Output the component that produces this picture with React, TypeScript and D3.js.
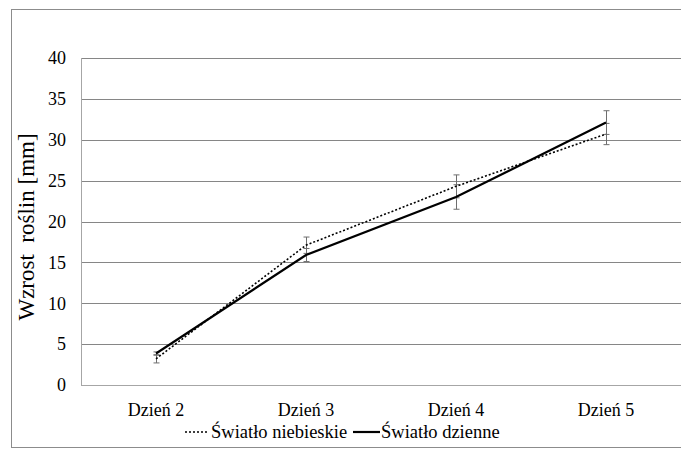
import React from 'react';
import * as d3 from 'd3';

const days = ['Dzień 2', 'Dzień 3', 'Dzień 4', 'Dzień 5'];
const blueValues = [3.2, 17.1, 24.3, 30.7];
const blueErrors = [0.5, 1.0, 1.4, 1.3];
const dayValues = [3.85, 15.9, 23.0, 32.1];
const dayErrors = [0.2, 0.8, 1.5, 1.45];
const yTicks = [0, 5, 10, 15, 20, 25, 30, 35, 40];
const seriesNames = ['Światło niebieskie', 'Światło dzienne'];

const W = 681;
const H = 450;
const FONT = 'Times New Roman';

const left = 81, right = 681, top = 58, bottom = 385;

export default function App() {
  const x = d3.scaleBand().domain(days).range([left, right]);
  const y = d3.scaleLinear().domain([0, 40]).range([bottom, top]);
  const cx = (d: string) => (x(d) as number) + x.bandwidth() / 2;

  const line = d3.line<number>()
    .x((_, i) => cx(days[i]))
    .y((v) => y(v));

  const series = [
    { values: blueValues, errors: blueErrors, dash: '2,2', width: 1.6 },
    { values: dayValues, errors: dayErrors, dash: undefined, width: 2.2 },
  ];

  const ly = 432;

  return (
    <svg
      width={W}
      height={H}
      style={{ position: 'absolute', left: 0, top: 0, background: 'white' }}
    >
      {/* chart border */}
      <rect x={11.5} y={9.5} width={680} height={438} fill="white" stroke="#8c8c8c" />

      {/* grid */}
      {yTicks.filter((t) => t > 0).map((t) => (
        <line
          key={t}
          x1={left}
          x2={right}
          y1={Math.round(y(t)) + 0.5}
          y2={Math.round(y(t)) + 0.5}
          stroke="#868686"
        />
      ))}
      <line x1={left + 0.5} x2={left + 0.5} y1={top} y2={bottom} stroke="#a6a6a6" />
      <line x1={left} x2={right} y1={bottom + 0.5} y2={bottom + 0.5} stroke="#a6a6a6" />

      {/* y tick labels */}
      {yTicks.map((t) => (
        <text key={t} x={66} y={y(t)} dy="0.35em" textAnchor="end" fontSize={18} style={{ fontFamily: FONT }}>
          {t}
        </text>
      ))}

      {/* x labels */}
      {days.map((d) => (
        <text key={d} x={cx(d)} y={416} textAnchor="middle" fontSize={18} style={{ fontFamily: FONT }}>
          {d}
        </text>
      ))}

      {/* y title */}
      <text
        transform="translate(34,227) rotate(-90)"
        textAnchor="middle"
        fontSize={23}
        style={{ fontFamily: FONT, whiteSpace: 'pre' }}
      >
        {'Wzrost  roślin [mm]'}
      </text>

      {/* error bars */}
      {series.map((s, si) => (
        <g key={'e' + si} stroke="#6e6e6e" strokeWidth={1}>
          {days.map((d, i) => {
            const px = Math.round(cx(d)) + 0.5;
            const y1 = y(s.values[i] + s.errors[i]);
            const y2 = y(s.values[i] - s.errors[i]);
            return (
              <g key={d}>
                <line x1={px} x2={px} y1={y1} y2={y2} />
                <line x1={px - 3} x2={px + 3} y1={y1} y2={y1} />
                <line x1={px - 3} x2={px + 3} y1={y2} y2={y2} />
              </g>
            );
          })}
        </g>
      ))}

      {/* lines */}
      {series.map((s, si) => (
        <path
          key={'l' + si}
          d={line(s.values) || ''}
          fill="none"
          stroke="#000"
          strokeWidth={s.width}
          strokeDasharray={s.dash}
        />
      ))}

      {/* legend */}
      <line x1={185} x2={208} y1={ly} y2={ly} stroke="#000" strokeWidth={1.6} strokeDasharray="2,2" />
      <text x={211} y={ly} dy="0.35em" fontSize={18.5} style={{ fontFamily: FONT }}>{seriesNames[0]}</text>
      <line x1={353} x2={380} y1={ly} y2={ly} stroke="#000" strokeWidth={2.2} />
      <text x={381} y={ly} dy="0.35em" fontSize={18.5} style={{ fontFamily: FONT }}>{seriesNames[1]}</text>
    </svg>
  );
}
